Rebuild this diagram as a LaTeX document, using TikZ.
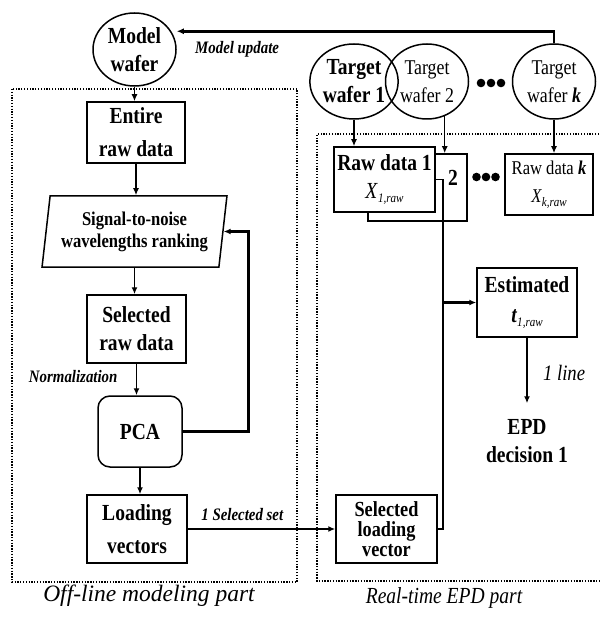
\documentclass[tikz,border=0pt]{standalone}
\usepackage{fontspec}
\setmainfont{Liberation Serif}[FakeStretch=0.85]
\newfontfamily\plainserif{Liberation Serif}
\usetikzlibrary{arrows.meta,positioning,shapes.geometric}

\newcommand{\lowsub}[1]{\raisebox{-4pt}{\fontsize{13}{13}\selectfont\mdseries\itshape #1}}

\begin{document}
\begin{tikzpicture}[x=1pt, y=-1pt, line width=1.5pt, >={Latex[length=7pt,width=6pt]},
  box/.style={draw, minimum width=99pt, minimum height=66pt, inner sep=0pt, align=center,
    font=\fontsize{23}{30}\selectfont\bfseries},
  wafer/.style={draw, ellipse, minimum width=83pt, minimum height=75pt, inner sep=0pt, align=center,
    font=\fontsize{23}{28}\selectfont\bfseries},
  note/.style={font=\fontsize{17.5}{20}\selectfont\bfseries\itshape},
  part/.style={line width=1.3pt, dash pattern=on 1.3pt off 1.5pt},
  heavy/.style={->, line width=2.6pt}]
\useasboundingbox (0,0) rectangle (599,617);
% the two parts
\draw[part] (12,89) rectangle (297,582);
\draw[part] (599,134) -- (317,134) -- (317,581) -- (599,581);
% off-line modeling part
\node[wafer, minimum height=73pt] (mw) at (134.5,49.5) {Model\\wafer};
\node[box, minimum width=98pt, minimum height=61pt, font=\fontsize{23}{33}\selectfont\bfseries] (raw) at (136,132.5) {Entire\\raw data};
\node[draw, trapezium, trapezium left angle=80, trapezium right angle=100, trapezium stretches=true,
  minimum width=185pt, minimum height=71pt, inner sep=0pt, align=center,
  font=\fontsize{19.5}{22}\selectfont\bfseries] (snr) at (134.5,231.5) {Signal-to-noise\\wavelengths ranking};
\node[box, minimum height=68pt, font=\fontsize{23}{28}\selectfont\bfseries] (sel) at (136.5,329) {Selected\\raw data};
\node[box, rounded corners=12pt, minimum width=84pt, minimum height=71pt] (pca) at (140,431.5) {PCA};
\node[box, minimum width=100pt, minimum height=68pt, font=\fontsize{23}{33}\selectfont\bfseries] (vec) at (137,529) {Loading\\vectors};
% real-time EPD part
\node[wafer] (tw1) at (354,81.5) {Target\\wafer 1};
\node[wafer, font=\fontsize{21}{28}\selectfont] (tw2) at (427,81.5) {Target\\wafer 2};
\node[wafer, font=\fontsize{21}{28}\selectfont] (twk) at (554,81.5) {Target\\wafer \textbf{\textit{k}}};
\foreach \x in {481,491,501}
  \fill (\x,83) circle (4.3pt);
\node[box, minimum width=99pt, minimum height=67pt] (rd2) at (417.5,187.5) {};
\node[font=\fontsize{23}{28}\selectfont\bfseries] (two) at (453,178) {2};
\node[box, fill=white, minimum width=101pt, minimum height=65pt, font=\fontsize{23}{28}\selectfont\bfseries] (rd1) at (384.5,179.5) {Raw data 1\\\textmd{\textit{X}}\lowsub{1,raw}};
\foreach \x in {476.5,486,495.5}
  \fill (\x,177) circle (4.3pt);
\node[box, minimum width=88pt, minimum height=61pt, font=\fontsize{19.5}{28}\selectfont] (rdk) at (549,184.5) {Raw data \textbf{\textit{k}}\\\textit{X}\lowsub{k,raw}};
\node[box, minimum width=100pt, minimum height=69pt, font=\fontsize{23}{30}\selectfont\bfseries] (est) at (527,302.5) {Estimated\\\textit{t}\lowsub{1,raw}};
\node[align=center, font=\fontsize{23}{28}\selectfont\bfseries] (epd) at (527,441) {EPD\\decision 1};
\node[box, minimum width=101pt, minimum height=68pt, font=\fontsize{21.5}{20}\selectfont\bfseries] (slv) at (386.5,529) {Selected\\loading\\vector};
% flow of the off-line part
\draw[->] (mw.south) -- (mw.south |- raw.north);
\draw[->] (raw.south) -- (raw.south |- snr.north);
\draw[->] (snr.south) -- (snr.south |- sel.north);
\draw[->] (sel.south) -- node[left=15pt, pos=0.4, note]{Normalization} (sel.south |- pca.north);
\draw[->] (pca.south) -- (pca.south |- vec.north);
\draw[heavy] (pca.east) -- ++(66,0) |- (snr.east);
\draw[->] (vec.east) -- node[above=4pt, pos=0.37, note]{1 Selected set} (slv.west);
% flow of the real-time part
\draw[->] (tw1.south) -- (tw1.south |- rd1.north);
\draw[->] (tw2.297) -- (tw2.297 |- rd2.north);
\draw[->] (twk.south) -- (twk.south |- rdk.north);
\coordinate (bus) at (443,302.5);
\draw (rd1.east) -| (bus) |- (slv.east);
\draw[heavy] (bus) -- (est.west);
\draw[->, shorten >=12pt] (est.south) -- node[right=12pt, pos=0.45, font=\fontsize{22}{24}\selectfont\itshape]{1 line} (epd.north);
\draw[heavy] (twk.north) -- ++(0,-12) coordinate (upd) -- node[pos=0.84, below=5pt, note]{Model update} (upd -| mw.east);
% part names
\node[font=\plainserif\fontsize{23.5}{26}\selectfont\itshape] (offl) at (149,596) {Off-line modeling part};
\node[font=\fontsize{23}{26}\selectfont\itshape] (rtl) at (444,598) {Real-time EPD part};
\end{tikzpicture}
\end{document}
